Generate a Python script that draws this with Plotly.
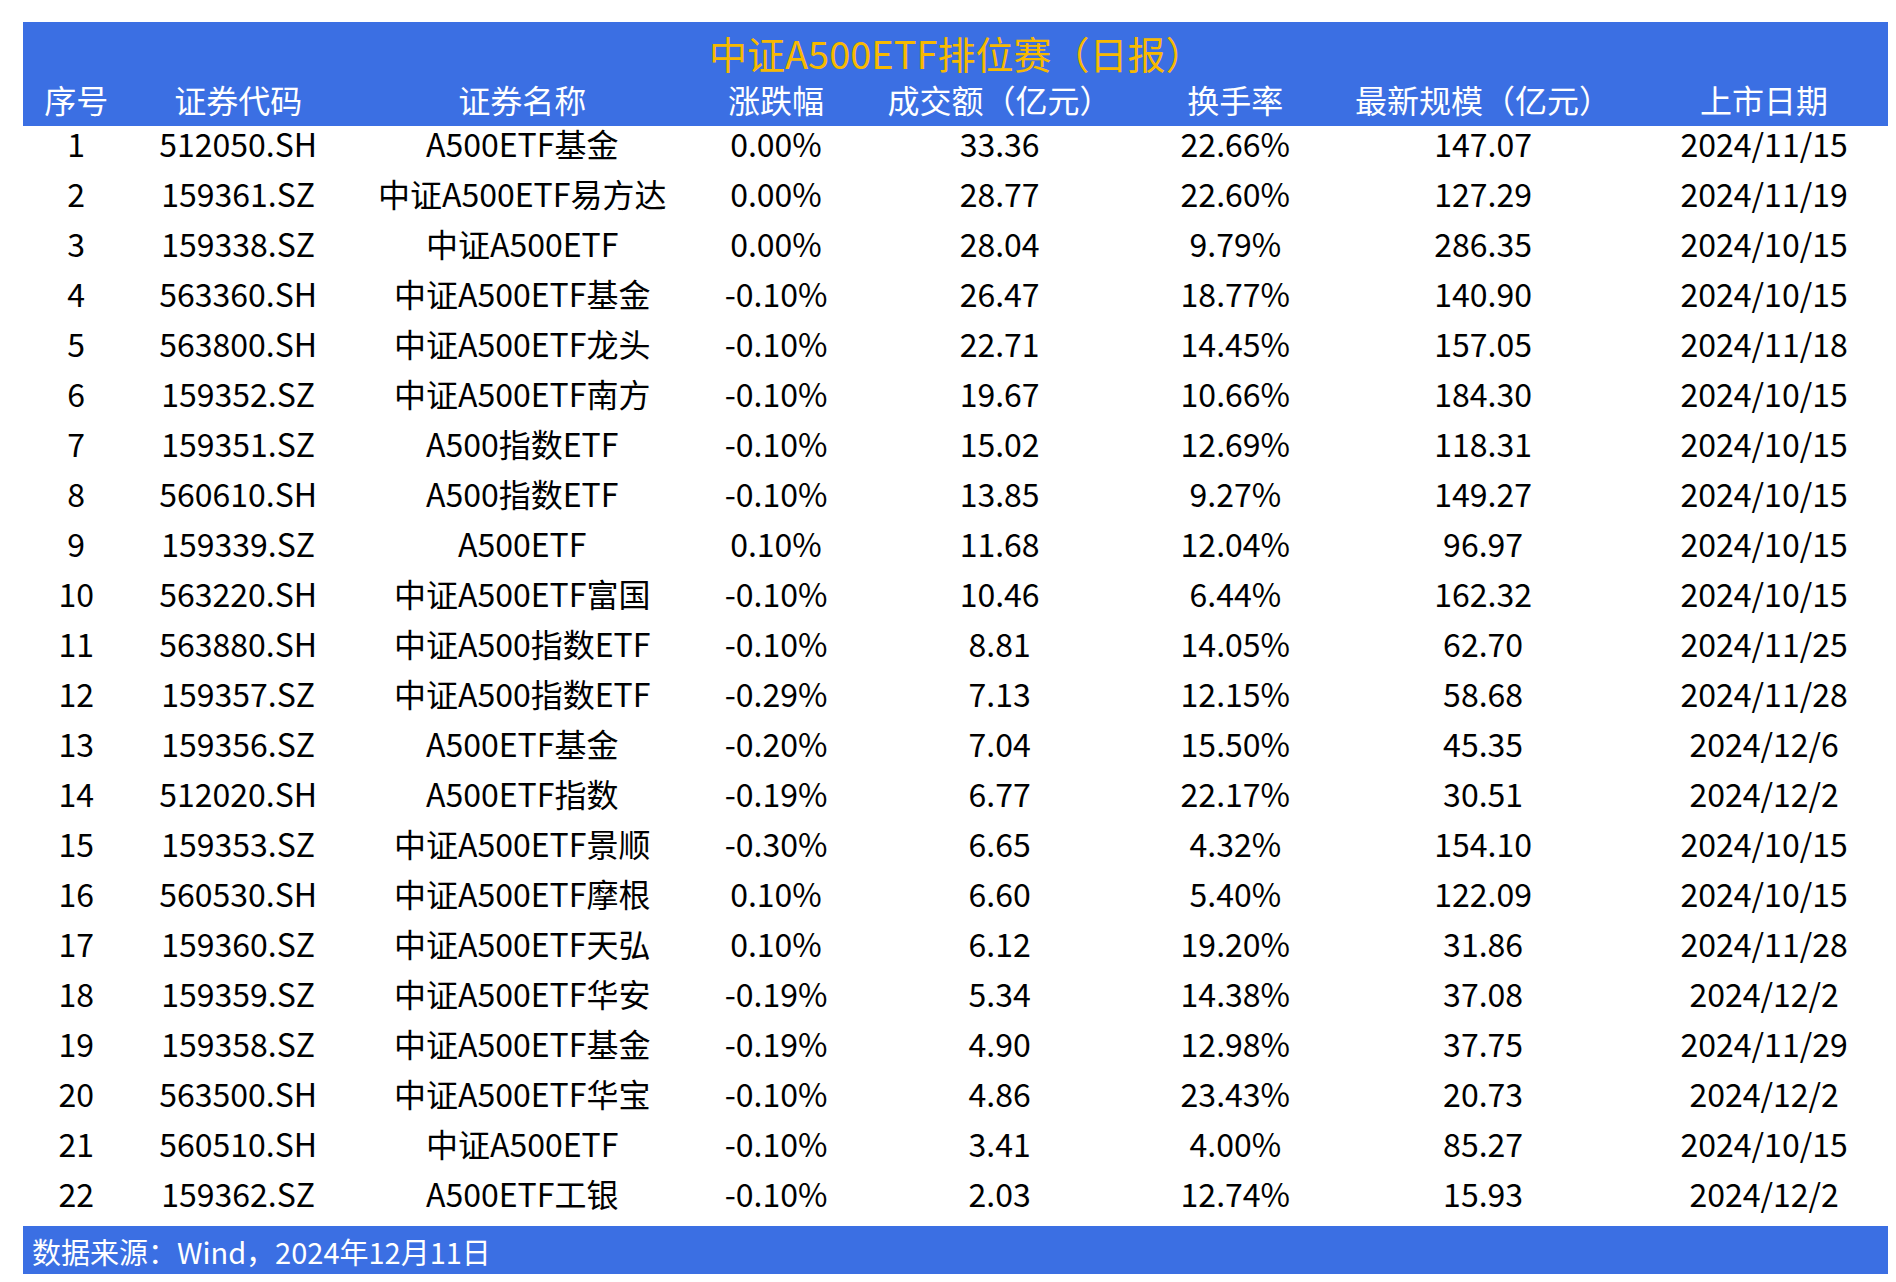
import plotly.graph_objects as go

title = "中证A500ETF排位赛（日报）"
footer = "数据来源：Wind，2024年12月11日"
headers = ["序号", "证券代码", "证券名称", "涨跌幅", "成交额（亿元）", "换手率", "最新规模（亿元）", "上市日期"]

rank = list(range(1, 23))
codes = ["512050.SH", "159361.SZ", "159338.SZ", "563360.SH", "563800.SH", "159352.SZ", "159351.SZ",
         "560610.SH", "159339.SZ", "563220.SH", "563880.SH", "159357.SZ", "159356.SZ", "512020.SH",
         "159353.SZ", "560530.SH", "159360.SZ", "159359.SZ", "159358.SZ", "563500.SH", "560510.SH",
         "159362.SZ"]
names = ["A500ETF基金", "中证A500ETF易方达", "中证A500ETF", "中证A500ETF基金", "中证A500ETF龙头",
         "中证A500ETF南方", "A500指数ETF", "A500指数ETF", "A500ETF", "中证A500ETF富国",
         "中证A500指数ETF", "中证A500指数ETF", "A500ETF基金", "A500ETF指数", "中证A500ETF景顺",
         "中证A500ETF摩根", "中证A500ETF天弘", "中证A500ETF华安", "中证A500ETF基金", "中证A500ETF华宝",
         "中证A500ETF", "A500ETF工银"]
change = ["0.00%", "0.00%", "0.00%", "-0.10%", "-0.10%", "-0.10%", "-0.10%", "-0.10%", "0.10%", "-0.10%",
          "-0.10%", "-0.29%", "-0.20%", "-0.19%", "-0.30%", "0.10%", "0.10%", "-0.19%", "-0.19%", "-0.10%",
          "-0.10%", "-0.10%"]
turnover = [33.36, 28.77, 28.04, 26.47, 22.71, 19.67, 15.02, 13.85, 11.68, 10.46, 8.81, 7.13, 7.04, 6.77,
            6.65, 6.60, 6.12, 5.34, 4.90, 4.86, 3.41, 2.03]
turnrate = ["22.66%", "22.60%", "9.79%", "18.77%", "14.45%", "10.66%", "12.69%", "9.27%", "12.04%", "6.44%",
            "14.05%", "12.15%", "15.50%", "22.17%", "4.32%", "5.40%", "19.20%", "14.38%", "12.98%", "23.43%",
            "4.00%", "12.74%"]
scale = [147.07, 127.29, 286.35, 140.90, 157.05, 184.30, 118.31, 149.27, 96.97, 162.32, 62.70, 58.68, 45.35,
         30.51, 154.10, 122.09, 31.86, 37.08, 37.75, 20.73, 85.27, 15.93]
dates = ["2024/11/15", "2024/11/19", "2024/10/15", "2024/10/15", "2024/11/18", "2024/10/15", "2024/10/15",
         "2024/10/15", "2024/10/15", "2024/10/15", "2024/11/25", "2024/11/28", "2024/12/6", "2024/12/2",
         "2024/10/15", "2024/10/15", "2024/11/28", "2024/12/2", "2024/11/29", "2024/12/2", "2024/10/15",
         "2024/12/2"]

W, H = 1896, 1282
blue = "#3b6fe3"
font = "Noto Sans CJK SC"

fig = go.Figure(go.Table(
    domain=dict(x=[15 / W, 1880 / W], y=[0, 1 - 73 / H]),
    columnwidth=[88, 180, 290, 130, 240, 150, 260, 205],
    header=dict(values=headers, fill_color=blue, line_color=blue, height=44, align="center",
                font=dict(family=font, size=32, color="white")),
    cells=dict(values=[rank, codes, names, change, [f"{v:.2f}" for v in turnover], turnrate,
                       [f"{v:.2f}" for v in scale], dates],
               fill_color="white", line_color="white", height=50, align="center",
               font=dict(family=font, size=32, color="black")),
))

# title band and footer band
fig.add_shape(type="rect", xref="paper", yref="paper", x0=15 / W, x1=1880 / W, y0=1 - 80 / H,
              y1=1 - 14 / H, fillcolor=blue, line_width=0, layer="below")
fig.add_shape(type="rect", xref="paper", yref="paper", x0=15 / W, x1=1880 / W, y0=1 - 1266 / H,
              y1=1 - 1218 / H, fillcolor=blue, line_width=0)
fig.add_annotation(text=title, xref="paper", yref="paper", x=0.5, y=1 - 44 / H, yanchor="middle",
                   showarrow=False, font=dict(family=font, size=38, color="#f7b900"))
fig.add_annotation(text=footer, xref="paper", yref="paper", x=22 / W, y=1 - 1243 / H, xanchor="left",
                   yanchor="middle", showarrow=False, font=dict(family=font, size=29, color="white"))

fig.update_layout(width=W, height=H, margin=dict(l=0, r=0, t=0, b=0), paper_bgcolor="white")
fig.write_html("out.html")
